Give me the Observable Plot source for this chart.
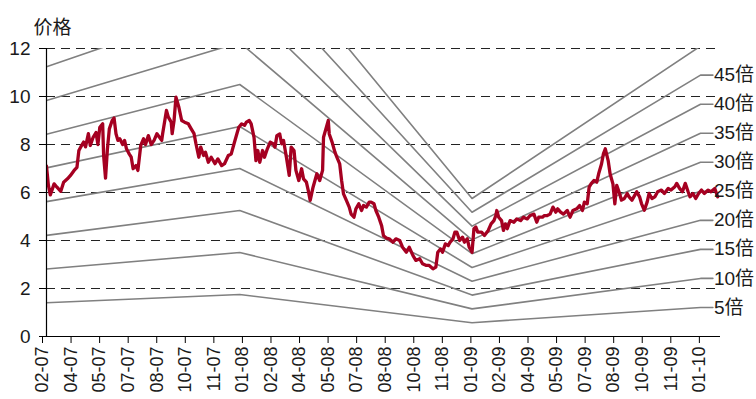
<!DOCTYPE html>
<html>
<head>
<meta charset="utf-8">
<script src="https://cdn.jsdelivr.net/npm/d3@7"></script>
<script src="https://cdn.jsdelivr.net/npm/@observablehq/plot@0.6"></script>
<style>
  html, body { margin: 0; padding: 0; background: #fff; }
  #chart svg { overflow: visible; }
</style>
</head>
<body>
<div id="chart"></div>
<script>
// Tick labels (one every 30 trading days)
const tickLabels = ["02-07","04-07","05-07","07-07","08-07","10-07","11-07","01-08","02-08","04-08","05-08","07-08","08-08","10-08","11-08","01-09","02-09","04-09","05-09","07-09","08-09","10-09","11-09","01-10"];
const tickStep = 30;
const dayMax = 708;

// Share price (trading-day index, price)
const priceDay = [0,2,4,8,11,15,18,22,25,29,32,34,36,39,41,44,46,49,52,54,56,59,60,62,64,66,69,71,73,75,77,80,82,84,87,89,91,94,96,99,102,104,107,110,113,116,121,122,126,128,131,132,134,136,139,142,145,149,152,155,157,160,162,165,167,170,173,177,180,184,187,191,194,197,200,202,205,208,210,213,215,218,220,222,224,227,229,232,235,238,240,242,245,247,249,252,255,257,260,262,265,268,270,273,275,277,280,282,284,287,290,291,294,296,297,300,303,305,308,310,312,315,318,320,323,325,328,331,333,336,339,341,344,346,349,352,354,357,360,364,367,371,374,378,381,385,388,392,395,399,402,406,409,411,414,416,419,422,424,427,429,431,434,437,439,442,444,447,449,451,453,457,460,464,467,470,472,473,475,478,480,482,484,487,491,494,498,501,505,508,512,515,517,521,523,526,529,532,535,537,540,543,547,550,553,557,560,563,565,568,570,572,575,578,580,583,585,587,590,592,595,597,599,602,604,607,610,612,615,618,620,623,625,628,631,633,636,639,642,646,649,653,656,660,662,665,668,671,674,676,679,682,685,688,691,695,698,702,705];
const priceVal = [7.1,6.3,5.9,6.36,6.22,6.05,6.43,6.57,6.7,6.92,7.05,7.75,7.9,8.1,7.9,8.45,7.96,8.3,8.5,8.0,8.72,8.86,7.54,6.6,7.82,8.65,9.0,9.1,8.45,8.17,8.24,8.0,8.17,7.82,7.6,7.47,6.99,7.12,6.92,7.96,8.24,8.0,8.37,8.0,8.17,8.45,8.17,8.45,9.42,9.14,8.93,8.45,9.0,9.97,9.56,9.0,8.93,8.86,8.65,8.45,8.03,7.47,7.89,7.54,7.68,7.26,7.47,7.2,7.4,7.12,7.2,7.54,7.6,8.03,8.45,8.72,8.86,8.8,8.93,9.0,8.86,8.3,7.33,7.75,7.26,7.75,7.47,7.82,8.1,8.03,7.89,8.37,8.44,8.03,8.17,7.47,6.71,7.89,7.75,6.92,6.5,6.99,6.57,6.43,6.08,5.67,6.22,6.5,6.78,6.5,6.92,8.3,8.72,9.0,8.44,8.1,7.68,7.47,7.19,6.5,5.94,5.67,5.39,5.1,4.97,5.32,5.53,5.25,5.46,5.39,5.6,5.6,5.53,5.25,4.97,4.62,4.2,4.1,4.07,3.93,4.07,4.0,3.72,3.51,3.72,3.37,3.17,3.24,3.03,2.96,2.96,2.82,2.89,3.51,3.65,3.51,3.86,3.79,3.93,4.07,4.35,4.35,4.0,4.14,3.93,4.07,3.72,3.51,4.49,4.56,4.35,4.35,4.21,4.42,4.69,4.83,5.04,5.25,4.97,4.83,4.42,4.69,4.49,4.83,4.76,4.9,4.83,4.97,4.9,5.04,5.1,4.76,4.97,4.97,5.04,5.04,5.1,5.39,5.18,5.32,5.18,5.1,5.25,4.97,5.25,5.32,5.46,5.25,5.6,5.53,6.22,6.36,6.5,6.43,6.78,7.19,7.61,7.82,7.33,6.78,6.36,5.53,6.3,5.96,5.68,5.75,5.96,5.82,5.68,5.89,6.03,5.82,5.54,5.26,5.61,5.96,5.75,5.82,6.03,6.1,5.96,6.17,6.1,6.24,6.38,6.17,6.03,6.38,6.03,5.82,5.96,5.75,5.96,6.1,5.96,6.1,6.03,6.17,5.82,5.6];

// Earnings per share path (trading-day index, EPS)
const epsDay = [0, 203, 447, 687, 700];
const epsVal = [0.281, 0.35, 0.115, 0.242, 0.242];

// PE multiples
const multiples = [5, 10, 15, 20, 25, 30, 35, 40, 45, 50];
const labeledMultiples = [5, 10, 15, 20, 25, 30, 35, 40, 45];

const price = priceDay.map((d, i) => ({day: d, value: priceVal[i]}));
const bands = multiples.flatMap(m => epsDay.map((d, i) => ({m, day: d, value: epsVal[i] * m})));
const lastDay = epsDay[epsDay.length - 1];
const lastEps = epsVal[epsVal.length - 1];
const bandLabels = labeledMultiples.map(m => ({m, day: lastDay, value: lastEps * m, text: m + "倍"}));

const font = "'Liberation Sans', Arial, 'Noto Sans CJK SC', sans-serif";

const chart = Plot.plot({
  width: 756,
  height: 399,
  marginTop: 48,
  marginBottom: 63,
  marginLeft: 46,
  marginRight: 36,
  style: {fontFamily: font, fontSize: "17px", background: "#fff", color: "#1a1a1a"},
  x: {domain: [0, dayMax]},
  y: {domain: [0, 12]},
  marks: [
    Plot.gridY(d3.range(2, 13, 2), {stroke: "#222", strokeOpacity: 1, strokeDasharray: "9,6", strokeWidth: 1}),
    Plot.line(bands, {x: "day", y: "value", z: "m", stroke: "#808080", strokeWidth: 1.6, clip: true}),
    Plot.line(price, {x: "day", y: "value", stroke: "#a50021", strokeWidth: 3.3, strokeLinejoin: "round", clip: true}),
    Plot.text(bandLabels, {x: "day", y: "value", text: "text", textAnchor: "start", dx: 1, fontSize: 19, fill: "#1a1a1a", fontFamily: font}),
    Plot.ruleY([0], {stroke: "#000", strokeWidth: 1.2}),
    Plot.ruleX([0], {y1: 0, y2: 12, stroke: "#000", strokeWidth: 1.2}),
    Plot.axisY({ticks: d3.range(0, 13, 2), tickSize: 7, tickPadding: 9, fontSize: 19, label: null, stroke: "#000"}),
    Plot.axisX({ticks: d3.range(0, tickLabels.length).map(i => i * tickStep), tickFormat: d => tickLabels[Math.round(d / tickStep)], tickRotate: -90, tickSize: 7, tickPadding: 3, fontSize: 18, label: null, stroke: "#000", dx: -4}),
    Plot.text(["价格"], {frameAnchor: "top-left", text: d => d, textAnchor: "start", dx: -13, dy: -28, fontSize: 19, fill: "#1a1a1a"})
  ]
});
document.getElementById("chart").appendChild(chart);
</script>
</body>
</html>
